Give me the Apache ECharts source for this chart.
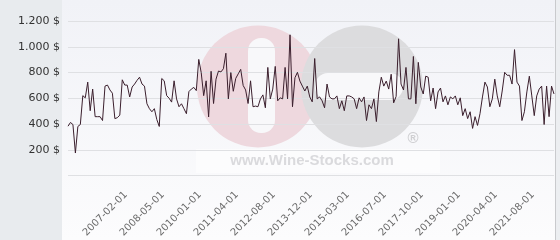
<!DOCTYPE html>
<html>
<head>
<meta charset="utf-8">
<script src="https://cdn.jsdelivr.net/npm/echarts@6/dist/echarts.min.js"></script>
<style>
html,body{margin:0;padding:0;background:#fff;}
#c{width:560px;height:240px;}
</style>
</head>
<body>
<div id="c"></div>
<script>
const categories = [
"2005-04-01","2005-05-01","2005-06-01","2005-07-01","2005-08-01","2005-09-01","2005-10-01","2005-11-01","2005-12-01",
"2006-01-01","2006-02-01","2006-03-01","2006-04-01","2006-05-01","2006-06-01","2006-07-01","2006-08-01","2006-09-01","2006-10-01","2006-11-01","2006-12-01",
"2007-01-01","2007-02-01","2007-03-01","2007-04-01","2007-05-01","2007-06-01","2007-07-01","2007-08-01","2007-09-01","2007-10-01","2007-11-01","2007-12-01",
"2008-01-01","2008-02-01","2008-03-01","2008-04-01","2008-05-01","2008-06-01","2008-07-01","2008-08-01","2008-09-01","2008-10-01","2008-11-01","2008-12-01",
"2009-02-01","2009-03-01","2009-05-01","2009-06-01","2009-08-01","2009-10-01","2009-12-01",
"2010-01-01","2010-02-01","2010-03-01","2010-04-01","2010-05-01","2010-06-01","2010-07-01","2010-08-01","2010-09-01","2010-10-01","2010-11-01","2010-12-01",
"2011-01-01","2011-02-01","2011-03-01","2011-04-01","2011-05-01","2011-06-01","2011-07-01","2011-08-01","2011-09-01","2011-10-01","2011-11-01",
"2012-01-01","2012-02-01","2012-03-01","2012-04-01","2012-05-01","2012-06-01","2012-07-01","2012-08-01","2012-09-01","2012-10-01","2012-11-01","2012-12-01",
"2013-01-01","2013-02-01","2013-04-01","2013-05-01","2013-06-01","2013-07-01","2013-08-01","2013-09-01","2013-10-01","2013-11-01","2013-12-01",
"2014-01-01","2014-02-01","2014-03-01","2014-04-01","2014-05-01","2014-06-01","2014-07-01","2014-08-01","2014-09-01","2014-10-01","2014-11-01","2014-12-01",
"2015-01-01","2015-02-01","2015-03-01","2015-04-01","2015-05-01","2015-06-01","2015-07-01","2015-08-01","2015-09-01","2015-10-01","2015-12-01",
"2016-01-01","2016-02-01","2016-03-01","2016-04-01","2016-05-01","2016-06-01","2016-07-01","2016-08-01","2016-09-01","2016-10-01","2016-11-01","2016-12-01",
"2017-01-01","2017-02-01","2017-03-01","2017-04-01","2017-05-01","2017-06-01","2017-07-01","2017-08-01","2017-09-01","2017-10-01","2017-11-01","2017-12-01",
"2018-01-01","2018-02-01","2018-03-01","2018-04-01","2018-05-01","2018-06-01","2018-07-01","2018-08-01","2018-09-01","2018-10-01","2018-11-01","2018-12-01",
"2019-01-01","2019-02-01","2019-03-01","2019-04-01","2019-05-01","2019-06-01","2019-07-01","2019-08-01","2019-09-01","2019-10-01","2019-11-01","2019-12-01",
"2020-01-01","2020-02-01","2020-03-01","2020-04-01","2020-05-01","2020-06-01","2020-07-01","2020-08-01","2020-09-01","2020-10-01","2020-11-01",
"2021-01-01","2021-02-01","2021-03-01","2021-04-01","2021-05-01","2021-06-01","2021-07-01","2021-08-01","2021-09-01","2021-10-01","2021-11-01","2021-12-01",
"2022-01-01","2022-02-01","2022-03-01","2022-04-01","2022-05-01","2022-06-01"
];

const prices = [
384,413,397,176,382,397,621,604,726,504,
672,458,458,458,428,695,703,665,640,443,
450,470,744,703,703,611,688,711,740,764,
711,695,558,520,496,520,436,382,754,736,
621,601,571,736,596,535,558,520,481,652,
672,685,660,902,800,621,736,456,810,560,
749,812,805,830,950,596,800,655,755,790,
825,700,665,560,736,535,540,535,596,627,
527,840,596,672,848,581,604,596,840,596,
1093,535,760,802,734,695,657,695,611,573,
909,596,611,581,527,711,611,596,596,619,
520,581,504,619,619,611,596,520,604,573,
611,428,550,520,596,420,650,764,695,734,
672,787,565,615,1062,711,665,840,596,596,
925,558,879,688,634,772,764,581,680,520,
650,680,573,619,550,611,596,619,550,604,
466,520,443,496,367,458,390,481,611,726,
688,535,596,749,619,535,657,802,779,779,
711,978,726,695,428,496,650,772,619,466,
619,672,695,397,695,458,695,634
];

const tickLabels = [
"2007-02-01","2008-05-01","2010-01-01","2011-04-01","2012-08-01","2013-12-01",
"2015-03-01","2016-07-01","2017-10-01","2019-01-01","2020-04-01","2021-08-01"
];

const yMin = 0, yMax = 1200, yStep = 200;

function fmtPrice(v) {
  if (v === 0) return '';
  let s;
  if (v >= 1000) {
    s = Math.floor(v / 1000) + '.' + String(v % 1000).padStart(3, '0');
  } else {
    s = String(v);
  }
  return s + ' $';
}

const chart = echarts.init(document.getElementById('c'), null, {renderer: 'canvas'});

const option = {
  animation: false,
  backgroundColor: '#ffffff',
  graphic: {
    elements: [
      {type: 'rect', z: -100, silent: true, shape: {x: 0, y: 0, width: 62, height: 240}, style: {fill: '#e8ebee'}},
      {type: 'rect', z: -100, silent: true, shape: {x: 62, y: 0, width: 494, height: 240},
        style: {fill: new echarts.graphic.LinearGradient(0, 0, 0, 1, [
          {offset: 0, color: '#f1f2f7'}, {offset: 1, color: '#fcfcfd'}
        ])}},
      {type: 'rect', z: -100, silent: true, shape: {x: 555, y: 0, width: 1, height: 240}, style: {fill: '#c9cacd'}},
      {type: 'rect', z: -100, silent: true, shape: {x: 556, y: 0, width: 4, height: 240}, style: {fill: '#eceef1'}},
      // watermark
      {type: 'rect', z: -60, silent: true, shape: {x: 196, y: 149, width: 244, height: 24}, style: {fill: 'rgba(255,255,255,0.5)'}},
      {type: 'circle', z: -50, silent: true, shape: {cx: 258, cy: 86.5, r: 61}, style: {fill: '#eed8de'}},
      {type: 'rect', z: -49, silent: true, shape: {x: 248, y: 38, width: 27, height: 95, r: 13}, style: {fill: '#f8f8fa'}},
      {type: 'circle', z: -48, silent: true, shape: {cx: 362, cy: 86.5, r: 61}, style: {fill: '#dcdcde'}},
      {type: 'rect', z: -47, silent: true, shape: {x: 315, y: 73, width: 88, height: 27, r: 13}, style: {fill: '#f8f8fa'}},
      {type: 'text', z: -46, silent: true, x: 312, y: 161,
        style: {text: 'www.Wine-Stocks.com', fill: '#dadadd', font: 'bold 15px "Liberation Sans", Arial, sans-serif', align: 'center', verticalAlign: 'middle'}},
      {type: 'text', z: -46, silent: true, x: 413, y: 139,
        style: {text: '®', fill: '#cfcfd2', font: 'bold 15px "Liberation Sans", Arial, sans-serif', align: 'center', verticalAlign: 'middle'}}
    ]
  },
  grid: {left: 68, right: 6, top: 21, bottom: 62, containLabel: false},
  xAxis: {
    type: 'category',
    data: categories,
    boundaryGap: false,
    axisLine: {show: false},
    axisTick: {show: false},
    splitLine: {show: false},
    axisLabel: {
      interval: function (idx, val) { return tickLabels.indexOf(val) !== -1; },
      rotate: 45,
      margin: 14,
      verticalAlign: 'top',
      fontSize: 10,
      fontFamily: 'DejaVu Sans',
      color: '#6b6b6b'
    }
  },
  yAxis: {
    type: 'value',
    min: yMin,
    max: yMax,
    interval: yStep,
    axisLine: {show: false},
    axisTick: {show: false},
    splitLine: {show: true, lineStyle: {color: '#dfe0e3', width: 1}},
    axisLabel: {
      formatter: fmtPrice,
      margin: 8,
      fontSize: 11,
      fontFamily: 'DejaVu Sans',
      color: '#333333'
    }
  },
  series: [{
    type: 'line',
    data: prices,
    showSymbol: false,
    symbol: 'none',
    lineStyle: {color: '#3b1f2d', width: 1},
    z: 5
  }]
};

chart.setOption(option);
</script>
</body>
</html>
